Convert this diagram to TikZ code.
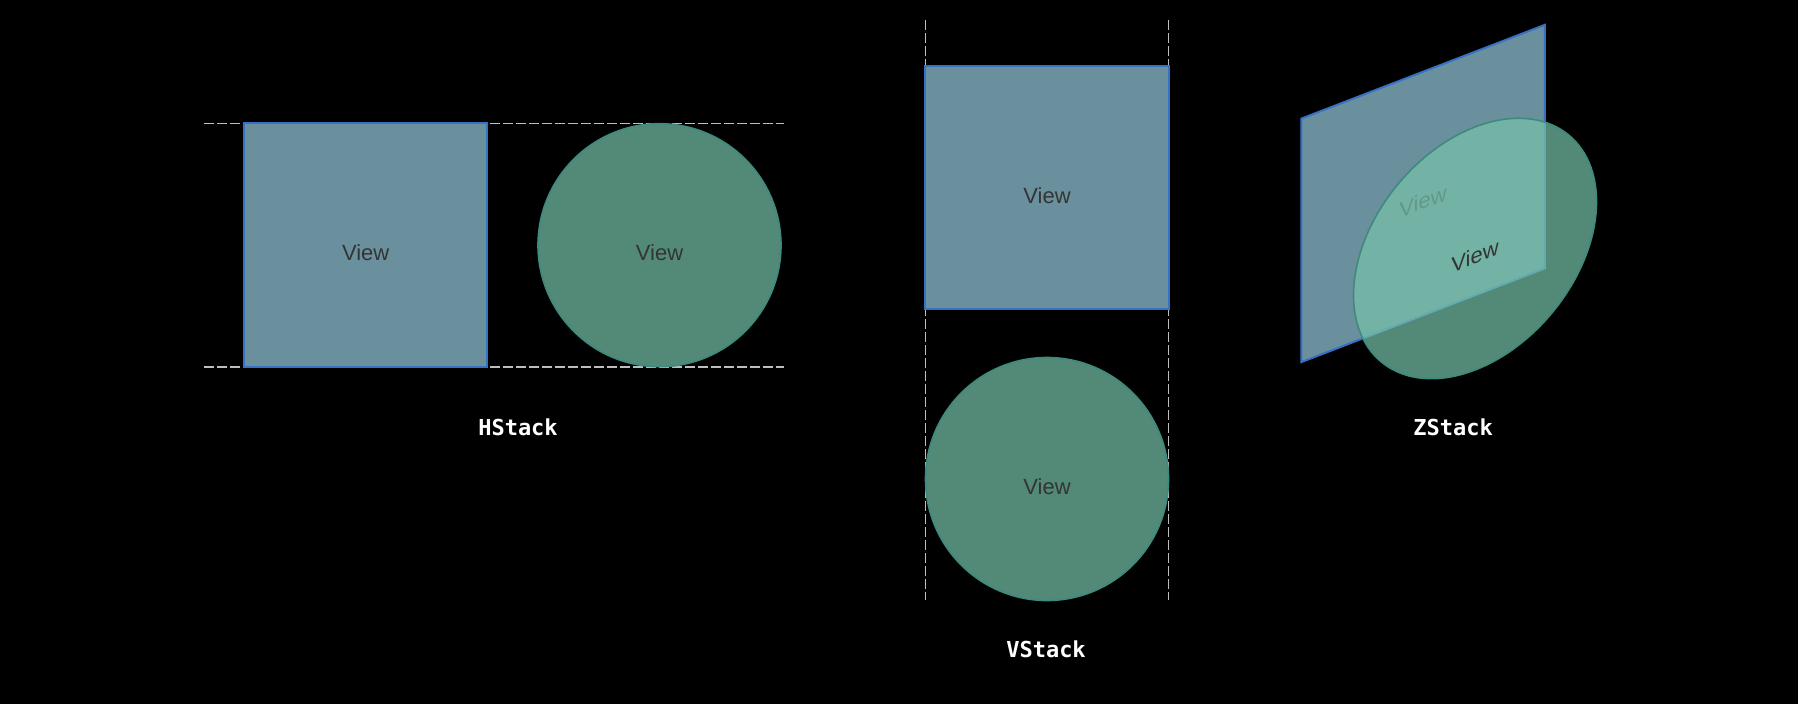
\documentclass[tikz,border=0pt]{standalone}
\usepackage{fontspec}
\setmainfont{Liberation Sans}
\newfontfamily\labelfont{DejaVu Sans Mono}
\definecolor{sqfill}{RGB}{106,144,158}
\definecolor{sqdraw}{RGB}{54,113,198}
\definecolor{cifill}{RGB}{118,194,169}
\definecolor{cidraw}{RGB}{62,138,127}
\definecolor{guidecol}{RGB}{190,190,190}
\definecolor{viewtext}{RGB}{52,52,52}
\begin{document}
\begin{tikzpicture}[x=1pt,y=-1pt,
  viewtxt/.style={font=\fontsize{22}{26}\selectfont, text=viewtext, text height=31pt, text depth=0pt},
  sq/.style={rectangle, draw=sqdraw, fill=sqfill, line width=2pt, minimum width=243.5pt, minimum height=243.5pt, outer sep=0pt, inner sep=0pt, viewtxt},
  ci/.style={circle, draw=cidraw, fill=cifill, fill opacity=0.71, text opacity=1, line width=1.6pt, minimum size=243pt, outer sep=0pt, inner sep=0pt, viewtxt},
  guideline/.style={draw=guidecol, line width=1.6pt, dash pattern=on 9.5pt off 3.5pt},
  stacklabel/.style={text=white, font=\labelfont\bfseries\fontsize{22}{26}\selectfont, inner sep=0pt}]
\fill[black] (0,0) rectangle (1798,704);
\useasboundingbox (0,0) rectangle (1798,704);

% HStack
\coordinate (ht1) at (204,123.5);
\coordinate (ht2) at (784,123.5);
\coordinate (hb1) at (204,367);
\coordinate (hb2) at (784,367);
\draw[guideline] (ht1) -- (ht2);
\draw[guideline] (hb1) -- (hb2);
\node[sq] (hsq) at (365.7,245.2) {View};
\node[ci] (hci) at (659.5,245.2) {View};
\node[stacklabel] (hlab) at (518,427) {HStack};

% VStack
\coordinate (vl1) at (925.5,20);
\coordinate (vl2) at (925.5,600);
\coordinate (vr1) at (1168.5,20);
\coordinate (vr2) at (1168.5,600);
\draw[guideline] (vl1) -- (vl2);
\draw[guideline] (vr1) -- (vr2);
\node[sq] (vsq) at (1047,187.5) {View};
\node[ci] (vci) at (1047,479) {View};
\node[stacklabel] (vlab) at (1046,649) {VStack};

% ZStack
\begin{scope}[shift={(1423,193.5)}, cm={1,0.385,0,1,(0,0)}]
  \node[sq, transform shape] (zsq) at (0,0) {View};
  \node[ci, transform shape] (zci) at (52,75) {View};
\end{scope}
\node[stacklabel] (zlab) at (1453,427) {ZStack};
\end{tikzpicture}
\end{document}
